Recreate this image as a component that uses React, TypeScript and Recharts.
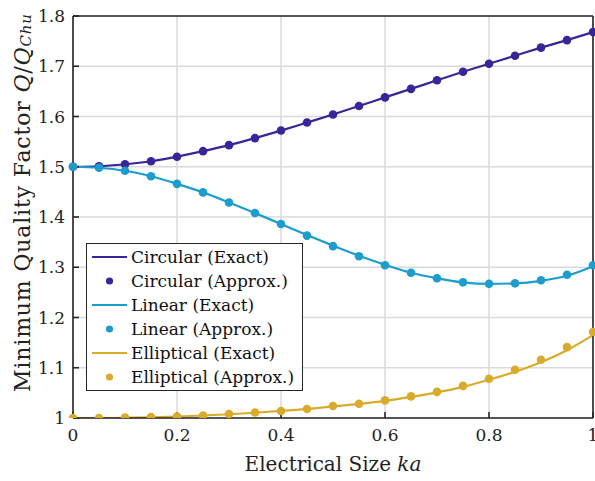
import React from "react";
import { ComposedChart, Line, XAxis, YAxis, CartesianGrid, Legend, Label } from "recharts";

const kaValues = [0, 0.05, 0.1, 0.15, 0.2, 0.25, 0.3, 0.35, 0.4, 0.45, 0.5, 0.55, 0.6, 0.65, 0.7, 0.75, 0.8, 0.85, 0.9, 0.95, 1];
const circularExact = [1.5, 1.501, 1.505, 1.511, 1.52, 1.531, 1.543, 1.557, 1.572, 1.588, 1.604, 1.621, 1.638, 1.655, 1.672, 1.689, 1.705, 1.721, 1.737, 1.752, 1.768];
const circularApprox = [1.5, 1.501, 1.505, 1.511, 1.52, 1.531, 1.543, 1.557, 1.572, 1.588, 1.604, 1.621, 1.638, 1.655, 1.672, 1.689, 1.705, 1.721, 1.737, 1.752, 1.768];
const linearExact = [1.5, 1.498, 1.492, 1.481, 1.466, 1.449, 1.429, 1.408, 1.386, 1.364, 1.343, 1.323, 1.305, 1.289, 1.278, 1.27, 1.267, 1.268, 1.273, 1.283, 1.302];
const linearApprox = [1.5, 1.498, 1.492, 1.481, 1.466, 1.449, 1.429, 1.408, 1.386, 1.363, 1.342, 1.322, 1.304, 1.289, 1.278, 1.27, 1.267, 1.268, 1.274, 1.285, 1.304];
const ellipticalExact = [1, 1, 1.0005, 1.0015, 1.003, 1.005, 1.0075, 1.0105, 1.014, 1.018, 1.023, 1.028, 1.034, 1.042, 1.051, 1.062, 1.076, 1.092, 1.111, 1.135, 1.165];
const ellipticalApprox = [1, 1, 1.001, 1.002, 1.003, 1.005, 1.008, 1.011, 1.014, 1.018, 1.024, 1.0285, 1.035, 1.043, 1.052, 1.064, 1.078, 1.096, 1.116, 1.141, 1.171];

const xTicks = [0, 0.2, 0.4, 0.6, 0.8, 1];
const xTickLabels = ["0", "0.2", "0.4", "0.6", "0.8", "1"];
const yTicks = [1, 1.1, 1.2, 1.3, 1.4, 1.5, 1.6, 1.7, 1.8];
const yTickLabels = ["1", "1.1", "1.2", "1.3", "1.4", "1.5", "1.6", "1.7", "1.8"];

const C_CIRC = "#3a2598";
const C_LIN = "#1d9dcd";
const C_ELL = "#daab2b";
const AXIS = "#262626";
const FONT = "DejaVu Serif";

const data = kaValues.map((x, i) => ({
  x,
  circExact: circularExact[i],
  circApprox: circularApprox[i],
  linExact: linearExact[i],
  linApprox: linearApprox[i],
  ellExact: ellipticalExact[i],
  ellApprox: ellipticalApprox[i],
}));

const legendItems = [
  { label: "Circular (Exact)", color: C_CIRC, kind: "line" },
  { label: "Circular (Approx.)", color: C_CIRC, kind: "dot" },
  { label: "Linear (Exact)", color: C_LIN, kind: "line" },
  { label: "Linear (Approx.)", color: C_LIN, kind: "dot" },
  { label: "Elliptical (Exact)", color: C_ELL, kind: "line" },
  { label: "Elliptical (Approx.)", color: C_ELL, kind: "dot" },
];

function LegendBox() {
  return (
    <div
      style={{
        boxSizing: "border-box",
        width: 217,
        height: 148,
        border: `1.5px solid ${AXIS}`,
        background: "#fff",
        fontFamily: FONT,
        fontSize: 17,
        color: "#111",
        paddingTop: 1,
      }}
    >
      {legendItems.map((it) => (
        <div key={it.label} style={{ display: "flex", alignItems: "center", height: 24, whiteSpace: "nowrap" }}>
          <svg width={40} height={24} style={{ marginLeft: 4, flex: "none" }}>
            {it.kind === "line" ? (
              <line x1={1} x2={36} y1={12} y2={12} stroke={it.color} strokeWidth={2.2} />
            ) : (
              <circle cx={18.5} cy={12} r={3.6} fill={it.color} />
            )}
          </svg>
          <span style={{ lineHeight: "24px" }}>{it.label}</span>
        </div>
      ))}
    </div>
  );
}

function XTitle(props: any) {
  const vb = props.viewBox || { x: 73, y: 418, width: 520, height: 63 };
  const cx = vb.x + vb.width / 2;
  return (
    <text x={cx} y={471} textAnchor="middle" fontFamily={FONT} fontSize={20} fill="#222">
      Electrical Size <tspan fontStyle="italic">ka</tspan>
    </text>
  );
}

function YTitle(props: any) {
  const cx = 22;
  const cy = 203;
  return (
    <text
      x={cx - 189}
      y={cy}
      transform={`rotate(-90 ${cx} ${cy})`}
      dominantBaseline="central"
      fontFamily={FONT}
      fontSize={22}
      fill="#222"
      textLength={378}
      lengthAdjust="spacing"
    >
      Minimum Quality Factor <tspan fontStyle="italic">Q</tspan>/<tspan fontStyle="italic">Q</tspan>
      <tspan fontStyle="italic" fontSize={15} dy={4}>Chu</tspan>
    </text>
  );
}

const tickStyle = { fontFamily: FONT, fontSize: 17, fill: "#222" };

export default function App() {
  return (
    <div style={{ position: "absolute", left: 0, top: 0, width: 595, height: 481, background: "#fff" }}>
      <ComposedChart width={595} height={481} data={data} margin={{ top: 15, right: 1, bottom: 0, left: 0 }}>
        <CartesianGrid xAxisId="bottom" yAxisId="left" stroke="#dadada" strokeWidth={1.5} />
        <XAxis
          xAxisId="bottom"
          dataKey="x"
          type="number"
          domain={[0, 1]}
          ticks={xTicks}
          tickFormatter={(v: number) => xTickLabels[xTicks.indexOf(v)] ?? String(v)}
          height={63}
          tickSize={-6}
          tickMargin={17}
          tick={tickStyle}
          axisLine={{ stroke: AXIS, strokeWidth: 1.6 }}
          tickLine={{ stroke: AXIS, strokeWidth: 1.6 }}
          interval={0}
        >
          <Label content={XTitle} />
        </XAxis>
        <XAxis
          xAxisId="top"
          dataKey="x"
          type="number"
          orientation="top"
          domain={[0, 1]}
          ticks={xTicks}
          height={1}
          tickSize={-6}
          tick={false}
          axisLine={{ stroke: AXIS, strokeWidth: 1.6 }}
          tickLine={{ stroke: AXIS, strokeWidth: 1.6 }}
          interval={0}
        />
        <YAxis
          yAxisId="left"
          type="number"
          domain={[1, 1.8]}
          ticks={yTicks}
          tickFormatter={(v: number) => yTickLabels[yTicks.findIndex((t) => Math.abs(t - v) < 1e-9)] ?? String(v)}
          width={73}
          tickSize={-6}
          tickMargin={14}
          tick={tickStyle}
          axisLine={{ stroke: AXIS, strokeWidth: 1.6 }}
          tickLine={{ stroke: AXIS, strokeWidth: 1.6 }}
          interval={0}
          allowDataOverflow
        >
          <Label content={YTitle} />
        </YAxis>
        <YAxis
          yAxisId="right"
          type="number"
          orientation="right"
          domain={[1, 1.8]}
          ticks={yTicks}
          width={1}
          tickSize={-6}
          tick={false}
          axisLine={{ stroke: AXIS, strokeWidth: 1.6 }}
          tickLine={{ stroke: AXIS, strokeWidth: 1.6 }}
          interval={0}
        />
        <Legend
          layout="horizontal"
          verticalAlign="middle"
          align="center"
          content={() => <LegendBox />}
          wrapperStyle={{ left: 86, top: 243, width: 217, height: 148 }}
        />
        <Line xAxisId="bottom" yAxisId="left" type="monotone" dataKey="circExact" stroke={C_CIRC} strokeWidth={2.2} dot={false} activeDot={false} isAnimationActive={false} />
        <Line xAxisId="bottom" yAxisId="left" type="monotone" dataKey="circApprox" stroke="none" dot={{ r: 4.3, fill: C_CIRC, stroke: "none" }} activeDot={false} isAnimationActive={false} />
        <Line xAxisId="bottom" yAxisId="left" type="monotone" dataKey="linExact" stroke={C_LIN} strokeWidth={2.2} dot={false} activeDot={false} isAnimationActive={false} />
        <Line xAxisId="bottom" yAxisId="left" type="monotone" dataKey="linApprox" stroke="none" dot={{ r: 4.3, fill: C_LIN, stroke: "none" }} activeDot={false} isAnimationActive={false} />
        <Line xAxisId="bottom" yAxisId="left" type="monotone" dataKey="ellExact" stroke={C_ELL} strokeWidth={2.2} dot={false} activeDot={false} isAnimationActive={false} />
        <Line xAxisId="bottom" yAxisId="left" type="monotone" dataKey="ellApprox" stroke="none" dot={{ r: 4.3, fill: C_ELL, stroke: "none" }} activeDot={false} isAnimationActive={false} />
      </ComposedChart>
    </div>
  );
}
